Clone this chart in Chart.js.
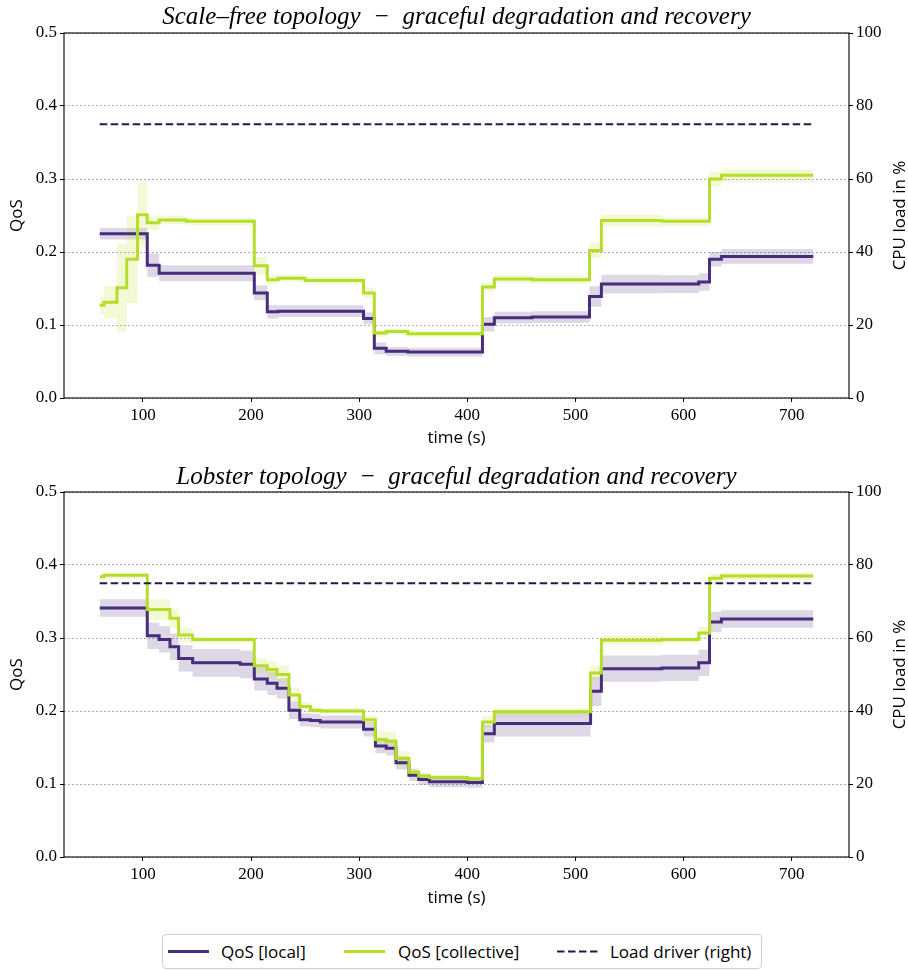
<!DOCTYPE html>
<html>
<head>
<meta charset="utf-8">
<script src="https://cdn.jsdelivr.net/npm/chart.js@4"></script>
<style>
body{margin:0;background:#fff;width:908px;height:970px;position:relative;overflow:hidden}
.box{position:absolute;left:0;width:908px;height:460px}
#legend{position:absolute;left:162px;top:934px;width:598px;height:33px;border:1px solid #cfcfcf;border-radius:4px;font:17px "Open Sans",Lato,sans-serif;color:#000}
#legend .it{position:absolute;top:0;height:33px;line-height:33px;white-space:nowrap}
#legend svg{position:absolute;top:14px}
</style>
</head>
<body>
<div class="box" style="top:0"><canvas id="c1" width="908" height="460"></canvas></div>
<div class="box" style="top:460px"><canvas id="c2" width="908" height="460"></canvas></div>
<div id="legend">
  <svg style="left:5px" width="41" height="5"><line x1="0" y1="2.5" x2="41" y2="2.5" stroke="#472d7b" stroke-width="3"/></svg>
  <div class="it" style="left:58px">QoS [local]</div>
  <svg style="left:181px" width="41" height="5"><line x1="0" y1="2.5" x2="41" y2="2.5" stroke="#b5de2b" stroke-width="3"/></svg>
  <div class="it" style="left:235px">QoS [collective]</div>
  <svg style="left:394px" width="41" height="5"><line x1="0" y1="2.5" x2="41" y2="2.5" stroke="#241a45" stroke-width="2" stroke-dasharray="7.5 3.5"/></svg>
  <div class="it" style="left:447px">Load driver (right)</div>
</div>
<script>
// scale-free topology (top)
const tSF = [60, 64, 76, 85, 95, 104, 115, 140, 203, 215, 225, 250, 304, 314, 325, 345, 414, 425, 460, 513, 524, 580, 614, 624, 635, 720];
const sfLocal = [0.225, 0.225, 0.225, 0.225, 0.225, 0.182, 0.171, 0.171, 0.144, 0.118, 0.119, 0.119, 0.109, 0.068, 0.064, 0.063, 0.101, 0.110, 0.111, 0.139, 0.156, 0.156, 0.159, 0.190, 0.194, 0.194];
const sfLocalStd = [0.008, 0.008, 0.008, 0.008, 0.008, 0.016, 0.011, 0.011, 0.010, 0.009, 0.008, 0.008, 0.008, 0.008, 0.006, 0.006, 0.010, 0.008, 0.008, 0.014, 0.013, 0.012, 0.012, 0.010, 0.010, 0.010];
const sfColl = [0.127, 0.131, 0.151, 0.190, 0.251, 0.240, 0.244, 0.242, 0.181, 0.162, 0.164, 0.161, 0.144, 0.089, 0.091, 0.088, 0.152, 0.163, 0.162, 0.202, 0.243, 0.242, 0.242, 0.300, 0.305, 0.305];
const sfCollStd = [0.012, 0.022, 0.060, 0.060, 0.045, 0.010, 0.006, 0.005, 0.012, 0.006, 0.005, 0.005, 0.007, 0.005, 0.004, 0.004, 0.006, 0.005, 0.005, 0.010, 0.008, 0.006, 0.006, 0.010, 0.008, 0.008];

// lobster topology (bottom)
const tLB = [60, 64, 104, 115, 125, 133, 146, 190, 203, 215, 224, 235, 245, 255, 264, 304, 315, 325, 334, 346, 355, 365, 400, 414, 425, 514, 524, 580, 614, 624, 635, 720];
const lbLocal = [0.341, 0.341, 0.303, 0.298, 0.288, 0.272, 0.266, 0.264, 0.244, 0.238, 0.231, 0.201, 0.188, 0.187, 0.185, 0.175, 0.152, 0.149, 0.129, 0.112, 0.106, 0.103, 0.102, 0.169, 0.183, 0.227, 0.258, 0.259, 0.266, 0.322, 0.326, 0.326];
const lbLocalStd = [0.012, 0.012, 0.018, 0.018, 0.018, 0.018, 0.019, 0.019, 0.016, 0.016, 0.014, 0.012, 0.009, 0.009, 0.009, 0.010, 0.010, 0.010, 0.009, 0.008, 0.007, 0.007, 0.007, 0.012, 0.018, 0.020, 0.018, 0.018, 0.018, 0.014, 0.012, 0.012];
const lbColl = [0.384, 0.386, 0.339, 0.339, 0.327, 0.304, 0.298, 0.298, 0.262, 0.257, 0.250, 0.222, 0.206, 0.201, 0.200, 0.188, 0.161, 0.159, 0.135, 0.116, 0.111, 0.109, 0.107, 0.185, 0.199, 0.252, 0.297, 0.298, 0.307, 0.382, 0.385, 0.385];
const lbCollStd = [0.004, 0.004, 0.014, 0.014, 0.013, 0.010, 0.004, 0.004, 0.010, 0.012, 0.012, 0.010, 0.006, 0.004, 0.004, 0.006, 0.012, 0.012, 0.010, 0.006, 0.004, 0.004, 0.004, 0.008, 0.005, 0.010, 0.006, 0.004, 0.008, 0.006, 0.005, 0.005];

// load driver, right axis (%)
const loadT = [60, 720];
const loadPct = [75, 75];

const qosTicks = [0, 0.1, 0.2, 0.3, 0.4, 0.5];
const cpuTicks = [0, 20, 40, 60, 80, 100];

const PURPLE = '#472d7b', GREEN = '#b5de2b', DASH = '#241a45';
const PURPLE_BAND = 'rgba(72,40,120,0.19)', GREEN_BAND = 'rgba(189,223,38,0.2)';
const SANS = '"Open Sans", Lato, sans-serif';
const SERIF = '"Liberation Serif", "DejaVu Serif", serif';

function pts(t, v, s, sign) {
  return t.map((x, i) => ({x: x, y: s ? v[i] + sign * s[i] : v[i]}));
}

const frame = {
  id: 'frame',
  afterDraw(chart, args, opts) {
    const {ctx, chartArea: a} = chart;
    ctx.save();
    ctx.strokeStyle = '#000';
    ctx.lineWidth = 1.1;
    ctx.strokeRect(a.left, a.top, a.right - a.left, a.bottom - a.top);
    // title
    ctx.fillStyle = '#000';
    ctx.font = 'italic 25px ' + SERIF;
    ctx.textAlign = 'center';
    ctx.textBaseline = 'alphabetic';
    ctx.fillText(opts.title, (a.left + a.right) / 2, opts.titleY);
    // right axis label, reading upwards
    ctx.font = '17px ' + SANS;
    ctx.translate(900, (a.top + a.bottom) / 2);
    ctx.rotate(-Math.PI / 2);
    ctx.textBaseline = 'middle';
    ctx.fillText('CPU load in %', 0, 0);
    ctx.restore();
  }
};

function makeChart(id, title, t, loc, locStd, coll, collStd, padTop, xHeight) {
  const tickFont = {family: SERIF, size: 17};
  const labFont = {family: SANS, size: 17};
  return new Chart(id, {
    type: 'line',
    data: {
      datasets: [
        {label: 'Load driver (right)', data: pts(loadT, loadPct), yAxisID: 'y1', borderColor: DASH, borderWidth: 2, borderDash: [7.5, 3.5], pointRadius: 0, fill: false, order: 0},
        {label: 'QoS [collective]', data: pts(t, coll), yAxisID: 'y', borderColor: GREEN, borderWidth: 3, stepped: 'before', pointRadius: 0, fill: false, order: 1},
        {label: 'QoS [local]', data: pts(t, loc), yAxisID: 'y', borderColor: PURPLE, borderWidth: 3, stepped: 'before', pointRadius: 0, fill: false, order: 2},
        {label: 'coll hi', data: pts(t, coll, collStd, 1), yAxisID: 'y', borderWidth: 0, borderColor: 'rgba(0,0,0,0)', backgroundColor: GREEN_BAND, stepped: 'before', pointRadius: 0, fill: '+1', order: 3},
        {label: 'coll lo', data: pts(t, coll, collStd, -1), yAxisID: 'y', borderWidth: 0, borderColor: 'rgba(0,0,0,0)', stepped: 'before', pointRadius: 0, fill: false, order: 3},
        {label: 'loc hi', data: pts(t, loc, locStd, 1), yAxisID: 'y', borderWidth: 0, borderColor: 'rgba(0,0,0,0)', backgroundColor: PURPLE_BAND, stepped: 'before', pointRadius: 0, fill: '+1', order: 4},
        {label: 'loc lo', data: pts(t, loc, locStd, -1), yAxisID: 'y', borderWidth: 0, borderColor: 'rgba(0,0,0,0)', stepped: 'before', pointRadius: 0, fill: false, order: 4}
      ]
    },
    options: {
      responsive: false,
      animation: false,
      layout: {padding: {top: padTop, left: 0, right: 0, bottom: 0}},
      plugins: {
        legend: {display: false},
        tooltip: {enabled: false},
        frame: {title: title, titleY: 24}
      },
      scales: {
        x: {
          type: 'linear', min: 27, max: 753,
          afterFit(s) { s.height = xHeight; },
          grid: {drawOnChartArea: false, color: '#000', tickLength: 4},
          border: {display: false},
          ticks: {stepSize: 100, includeBounds: false, color: '#000', font: tickFont, padding: 3, maxRotation: 0},
          title: {display: true, text: 'time (s)', color: '#000', font: labFont, padding: {top: 0, bottom: 12}}
        },
        y: {
          position: 'left', min: 0, max: 0.5,
          afterFit(s) { s.width = 64; },
          afterBuildTicks(s) { s.ticks = qosTicks.map(v => ({value: v})); },
          grid: {color: '#9a9a9a', lineWidth: 0.8, borderDash: [2, 2], tickLength: 4, tickColor: '#000', tickWidth: 1, tickBorderDash: []},
          border: {display: false, dash: [2, 2]},
          ticks: {color: '#000', font: tickFont, padding: 3, callback: v => v.toFixed(1)},
          title: {display: true, text: 'QoS', color: '#000', font: labFont, padding: {top: 7, bottom: 0}}
        },
        y1: {
          position: 'right', min: 0, max: 100,
          afterFit(s) { s.width = 59; },
          afterBuildTicks(s) { s.ticks = cpuTicks.map(v => ({value: v})); },
          grid: {drawOnChartArea: false, color: '#000', tickLength: 4},
          border: {display: false},
          ticks: {color: '#000', font: tickFont, padding: 3}
        }
      }
    },
    plugins: [frame]
  });
}

makeChart('c1', 'Scale\u2013free topology  \u2212  graceful degradation and recovery', tSF, sfLocal, sfLocalStd, sfColl, sfCollStd, 33, 62);
makeChart('c2', 'Lobster topology  \u2212  graceful degradation and recovery', tLB, lbLocal, lbLocalStd, lbColl, lbCollStd, 32, 63);
</script>
</body>
</html>
